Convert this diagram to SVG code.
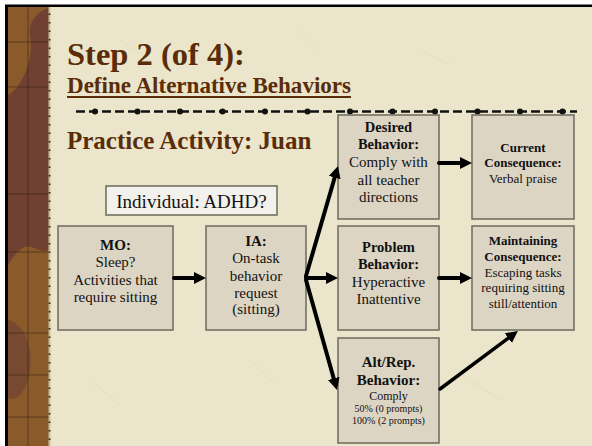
<svg xmlns="http://www.w3.org/2000/svg" width="592" height="446" viewBox="0 0 592 446">
<defs>
<style>
.box{fill:#ddd5c3;stroke:#6e695d;stroke-width:1.5}
.t{font-family:"Liberation Serif","Times New Roman",serif;fill:#111;text-anchor:middle}
.b{font-weight:bold}
.title{font-family:"Liberation Serif","Times New Roman",serif;font-weight:bold;fill:#5a2c08}
.arr{stroke:#000;stroke-width:4;fill:none;stroke-linecap:round;marker-end:url(#ah)}
.grid{stroke:#3a2414;stroke-width:1;opacity:0.6}
</style>
<marker id="ah" markerUnits="userSpaceOnUse" markerWidth="14" markerHeight="14" refX="4" refY="6" orient="auto">
<path d="M0,0 L12,6 L0,12 z" fill="#000"/>
</marker>
</defs>
<rect x="0" y="0" width="592" height="446" fill="#ffffff"/>
<rect x="7" y="5" width="585" height="441" fill="#ebe5cb"/>
<g opacity="0.25" stroke="#cdc5a4" stroke-width="1" fill="none">
<path d="M120,40 L150,62 M300,30 L320,52 M420,50 L450,64 M540,140 L560,160 M90,380 L120,405 M470,380 L500,400 M250,360 L275,385"/>
</g>
<g id="strip">
<rect x="8" y="5" width="41" height="441" fill="#8a5a2b"/>
<path d="M8,95 C20,90 35,60 30,35 C28,20 40,10 49,8 L49,250 C40,255 30,240 20,250 C14,255 10,262 8,265 Z" fill="#6b3d35" opacity="0.85"/>
<path d="M8,320 C22,322 34,345 30,370 C27,392 16,402 8,398 Z" fill="#6b3d35" opacity="0.6"/>
<line class="grid" x1="28" y1="5" x2="28" y2="446"/>
<line class="grid" x1="8" y1="42" x2="49" y2="42"/>
<line class="grid" x1="8" y1="87" x2="49" y2="87"/>
<line class="grid" x1="8" y1="194" x2="49" y2="194"/>
<line class="grid" x1="8" y1="252" x2="49" y2="252"/>
<line class="grid" x1="8" y1="333" x2="49" y2="333"/>
<line class="grid" x1="8" y1="375" x2="49" y2="375"/>
<line class="grid" x1="8" y1="417" x2="49" y2="417"/>
<line x1="49.5" y1="5" x2="49.5" y2="446" stroke="#c9c09a" stroke-width="2"/>
<line x1="49.5" y1="5" x2="49.5" y2="446" stroke="#3a2a1a" stroke-width="2" stroke-dasharray="1.5 7"/>
<rect x="5" y="5" width="3" height="441" fill="#000"/>
<rect x="5" y="4.5" width="587" height="2.5" fill="#000"/>
</g>
<g id="titles">
<text class="title" x="67" y="65" font-size="32.5">Step 2 (of 4):</text>
<text class="title" x="67" y="93" font-size="23" textLength="284" lengthAdjust="spacingAndGlyphs">Define Alternative Behaviors</text>
<line x1="67" y1="97" x2="351" y2="97" stroke="#5a2c08" stroke-width="2"/>
<text class="title" x="67" y="149" font-size="25">Practice Activity: Juan</text>
</g>
<g id="divider">
<line x1="76" y1="111.5" x2="577" y2="111.5" stroke="#111" stroke-width="2.5" stroke-dasharray="9 4"/>
<g fill="#111">
<circle cx="95" cy="111.5" r="3"/><circle cx="137.5" cy="111.5" r="3"/><circle cx="180" cy="111.5" r="3"/><circle cx="222.5" cy="111.5" r="3"/><circle cx="265" cy="111.5" r="3"/><circle cx="307.5" cy="111.5" r="3"/><circle cx="350" cy="111.5" r="3"/><circle cx="392.5" cy="111.5" r="3"/><circle cx="435" cy="111.5" r="3"/><circle cx="477.5" cy="111.5" r="3"/><circle cx="520" cy="111.5" r="3"/><circle cx="562.5" cy="111.5" r="3"/>
</g>
</g>
<g id="individual">
<rect x="106" y="186" width="171" height="29" fill="#f3f1ec" stroke="#6e695d" stroke-width="1.5"/>
<text class="t" x="191.5" y="208" font-size="19">Individual: ADHD?</text>
</g>
<g id="mo">
<rect class="box" x="58" y="226" width="115" height="104"/>
<text class="t" font-size="15"><tspan class="b" x="115.5" y="250">MO:</tspan><tspan x="115.5" y="267">Sleep?</tspan><tspan x="115.5" y="284.5">Activities that</tspan><tspan x="115.5" y="302">require sitting</tspan></text>
</g>
<g id="ia">
<rect class="box" x="206" y="226" width="100" height="104"/>
<text class="t" font-size="15"><tspan class="b" x="256" y="246">IA:</tspan><tspan x="256" y="263">On-task</tspan><tspan x="256" y="281">behavior</tspan><tspan x="256" y="297.5">request</tspan><tspan x="256" y="314">(sitting)</tspan></text>
</g>
<g id="desired">
<rect class="box" x="338" y="115" width="101" height="104"/>
<text class="t" font-size="15"><tspan class="b" x="388.5" y="132" font-size="14.5">Desired</tspan><tspan class="b" x="388.5" y="149" font-size="14.5">Behavior:</tspan><tspan x="388.5" y="167">Comply with</tspan><tspan x="388.5" y="184.5">all teacher</tspan><tspan x="388.5" y="202">directions</tspan></text>
</g>
<g id="current">
<rect class="box" x="472" y="115" width="102" height="104"/>
<text class="t" font-size="13"><tspan class="b" x="523" y="152">Current</tspan><tspan class="b" x="523" y="167">Consequence:</tspan><tspan x="523" y="182.5">Verbal praise</tspan></text>
</g>
<g id="problem">
<rect class="box" x="338" y="226" width="101" height="104"/>
<text class="t" font-size="15"><tspan class="b" x="388.5" y="252" font-size="14.5">Problem</tspan><tspan class="b" x="388.5" y="269" font-size="14.5">Behavior:</tspan><tspan x="388.5" y="287">Hyperactive</tspan><tspan x="388.5" y="304">Inattentive</tspan></text>
</g>
<g id="maintaining">
<rect class="box" x="472" y="226" width="102" height="104"/>
<text class="t" font-size="13"><tspan class="b" x="523" y="245">Maintaining</tspan><tspan class="b" x="523" y="261">Consequence:</tspan><tspan x="523" y="276.5">Escaping tasks</tspan><tspan x="523" y="292">requiring sitting</tspan><tspan x="523" y="307.5">still/attention</tspan></text>
</g>
<g id="altrep">
<rect class="box" x="338" y="338" width="101" height="105"/>
<text class="t"><tspan class="b" x="388.5" y="367" font-size="15">Alt/Rep.</tspan><tspan class="b" x="388.5" y="385" font-size="15">Behavior:</tspan><tspan x="388.5" y="399.5" font-size="12">Comply</tspan><tspan x="388.5" y="412" font-size="10">50% (0 prompts)</tspan><tspan x="388.5" y="423.5" font-size="10">100% (2 prompts)</tspan></text>
</g>
<g id="connectors">
<line class="arr" x1="174" y1="278" x2="198" y2="278"/>
<line class="arr" x1="306" y1="278" x2="330" y2="278"/>
<line class="arr" x1="439" y1="163" x2="464" y2="163"/>
<line class="arr" x1="439" y1="278" x2="464" y2="278"/>
<line class="arr" x1="306" y1="276" x2="335.8" y2="173.7"/>
<line class="arr" x1="306" y1="280" x2="334.8" y2="382.3"/>
<line class="arr" x1="440" y1="389" x2="511.5" y2="335.7" style="stroke-width:3.5"/>
</g>
</svg>
